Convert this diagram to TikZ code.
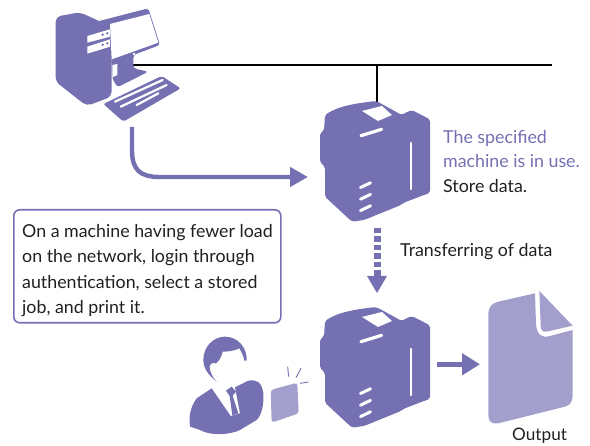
\documentclass[tikz,border=0pt]{standalone}
\usepackage{fontspec}
\setmainfont{Lato}
\usetikzlibrary{arrows.meta}
\definecolor{pur}{HTML}{7470B2}
\definecolor{lpur}{HTML}{A39FCC}
\definecolor{txt}{HTML}{231F20}
\tikzset{
  x=1pt,y=-1pt,
  lab/.style={font=\fontsize{17.8pt}{20pt}\selectfont,text=txt,inner sep=0pt,anchor=base west},
  plab/.style={lab,text=pur},
  wline/.style={draw=white,line width=2.2pt,line cap=round},
  zoomed/.style={x=0.33333pt,y=-0.33333pt},
  printer/.pic={
    \fill[pur,rounded corners=2pt] (325,115) .. controls (340,105) and (360,103) .. (376,101)
      -- (380,103) -- (401.7,115) -- (407,112) -- (411.7,110) -- (430,119.3) -- (430,193) -- (424,195) -- (403,203)
      -- (401,205) -- (364,220) -- (352,221.7) -- (325,196.7) -- (325,167) -- (320,162) -- (320,133) -- (324,130.7) -- cycle;
    \fill[white] (362,111) -- (382,106) -- (392,115) -- (378,121) -- cycle;
    \draw[wline,line width=3.2pt] (361,135.7) -- (381.7,129.3);
    \draw[wline,line width=2.6pt] (411,143) -- (411,189);
    \draw[wline,line width=3pt] (360.5,187.5) -- (370.5,182.8);
    \draw[wline,line width=3pt] (360.5,199.2) -- (370.5,194.4);
    \draw[wline,line width=3pt] (360.5,210.6) -- (370.5,205.8);
  }
}
\begin{document}
\begin{tikzpicture}
\useasboundingbox (0,0) rectangle (590,446);
% named connection points
\coordinate (netL) at (133,65);
\coordinate (netR) at (552,65);
\coordinate (netT) at (377,65);
\coordinate (prn) at (377,102);
\coordinate (pcOut) at (132,127);
\coordinate (arrIn) at (308,177);
\coordinate (d1) at (377,228);
\coordinate (d2) at (377,293);
\coordinate (o1) at (437,364.3);
\coordinate (o2) at (480,364.3);
% network
\draw[black,line width=2.5pt] (netL) -- (netR);
\draw[black,line width=2.5pt] (netT) -- (prn);
% computer
\begin{scope}[shift={(30,0)},zoomed]
\fill[pur,rounded corners=5pt] (77,50) -- (150,37) -- (245,80) -- (245,290) -- (170,318) -- (77,245) -- cycle;
\fill[pur,rounded corners=3pt] (200,65) -- (355,25) -- (390,135) -- (310,165) -- (310,205) -- (355,215) -- (262,262) -- (247,235) -- (240,100) -- cycle;
\fill[white] (240,72) -- (358,42) -- (385,128) -- (245,178) -- cycle;
\fill[white] (247,195) -- (262,192) -- (262,225) -- (247,232) -- cycle;
\fill[white] (172,108) -- (240,88) -- (240,110) -- (172,128) -- cycle;
\fill[white] (172,140) -- (240,118) -- (240,140) -- (172,161) -- cycle;
\foreach \p in {(218,104),(232,100),(218,134),(232,130)} \fill[pur] \p circle (1.3pt);
\fill[white] (312,162) circle (1.3pt);
\fill[pur,rounded corners=2pt] (220,312) -- (395,228) -- (452,265) -- (280,365) -- cycle;
\draw[wline] (255,305) -- (398,240);
\draw[wline] (272,320) -- (410,255);
\draw[wline] (320,315) -- (385,280);
\end{scope}
% arrow computer to printer
\draw[pur,line width=4.4pt,-{Triangle[length=18pt,width=19pt]}] (pcOut) -- (132,150) .. controls (132,170) and (140,177) .. (160,177) -- (arrIn);
% printers
\pic at (0,0) {printer};
\pic at (0,206) {printer};
% dashed arrow
\draw[pur,line width=7pt,dash pattern=on 5.5pt off 3pt] (d1) -- (377,276);
\fill[pur] (367,276) -- (387,276) -- (d2) -- cycle;
% arrow to output
\draw[pur,line width=5.5pt,-{Triangle[length=18pt,width=21pt]}] (o1) -- (o2);
% document
\begin{scope}[shift={(430,280)},zoomed]
\fill[lpur] (175,105) .. controls (175,80) and (185,70) .. (205,65) -- (315,40) -- (318,130) .. controls (320,165) and (335,175) .. (360,168) -- (428,150) -- (428,345) .. controls (428,365) and (420,376) .. (405,380) -- (205,430) .. controls (185,433) and (175,425) .. (175,405) -- cycle;
\fill[lpur] (328,33) -- (428,137) -- (350,155) .. controls (337,157) and (332,150) .. (332,135) -- cycle;
\end{scope}
% person
\begin{scope}[shift={(180,330)},zoomed]
\fill[pur] (110,155) .. controls (85,135) and (70,115) .. (70,90) .. controls (70,50) and (100,20) .. (135,20) .. controls (175,20) and (202,55) .. (200,92) -- (193,92) .. controls (190,75) and (185,68) .. (178,55) .. controls (165,62) and (145,65) .. (128,65) .. controls (125,80) and (118,92) .. (108,100) .. controls (95,95) and (85,105) .. (90,120) .. controls (95,135) and (100,145) .. (110,155) -- cycle;
\fill[pur] (30,290) .. controls (27,265) and (28,235) .. (50,205) -- (95,175) -- (152,258) -- (180,250) -- (165,172) -- (205,152) .. controls (230,148) and (245,155) .. (250,190) .. controls (252,225) and (245,255) .. (230,270) -- (180,300) .. controls (150,315) and (90,318) .. (60,300) -- cycle;
\fill[pur] (138,182) -- (155,170) -- (168,185) -- (158,197) -- (175,250) -- (157,256) -- (149,198) -- cycle;
\fill[lpur,rounded corners=3pt] (272,180) -- (352,158) -- (356,250) -- (275,278) -- cycle;
\draw[pur,line width=0.9pt] (323,110) -- (326,140);
\draw[pur,line width=0.9pt] (363,115) -- (348,143);
\draw[pur,line width=0.9pt] (360,160) -- (386,156);
\end{scope}
% text box
\node[draw=pur,line width=1.6pt,rounded corners=6pt,minimum width=267pt,minimum height=113pt,anchor=north west] (box) at (13,209) {};
\node[lab] (t1) at (22,238) {On a machine having fewer load};
\node[lab] (t2) at (22,263) {on the network, login through};
\node[lab] (t3) at (22,289) {authentication, select a stored};
\node[lab] (t4) at (22,314) {job, and print it.};
\node[plab] (s1) at (443,144) {The specified};
\node[plab] (s2) at (443,168) {machine is in use.};
\node[lab] (s3) at (443,193) {Store data.};
\node[lab] (tr) at (400,257) {Transferring of data};
\node[lab,font=\fontsize{17.2pt}{20pt}\selectfont] (ou) at (512,441) {Output};
\end{tikzpicture}
\end{document}
